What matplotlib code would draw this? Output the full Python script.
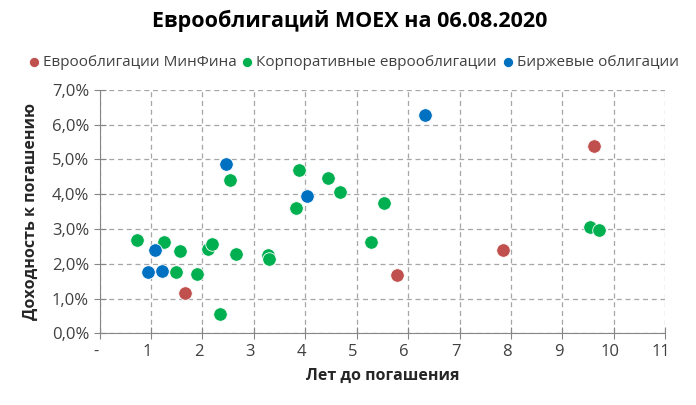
import matplotlib
matplotlib.use("Agg")
import matplotlib.pyplot as plt
import matplotlib.transforms as mtransforms
from matplotlib.ticker import FuncFormatter

plt.rcParams['font.family'] = ['Open Sans', 'DejaVu Sans']

# Еврооблигации МинФина
minfin_x = [1.66, 5.78, 7.85, 9.62]
minfin_y = [1.17, 1.68, 2.40, 5.38]
# Корпоративные еврооблигации
corp_x = [0.72, 1.25, 1.57, 1.48, 1.90, 2.11, 2.18, 2.35, 2.53, 2.66,
          3.28, 3.30, 3.81, 3.87, 4.45, 4.67, 5.27, 5.53, 9.53, 9.71]
corp_y = [2.69, 2.63, 2.37, 1.77, 1.72, 2.43, 2.58, 0.56, 4.40, 2.27,
          2.25, 2.14, 3.59, 4.71, 4.48, 4.05, 2.63, 3.75, 3.07, 2.98]
# Биржевые облигации
exch_x = [2.46, 1.07, 0.94, 1.21, 4.03, 6.32]
exch_y = [4.88, 2.41, 1.75, 1.80, 3.96, 6.27]

series = [
    ("Еврооблигации МинФина", minfin_x, minfin_y, "#C0504D"),
    ("Корпоративные еврооблигации", corp_x, corp_y, "#00B050"),
    ("Биржевые облигации", exch_x, exch_y, "#0070C0"),
]

fig = plt.figure(figsize=(6.96, 4.05), dpi=100)
ax = fig.add_axes([0.143, 0.177, 0.813, 0.601])

for name, xs, ys, col in series:
    ax.scatter(xs, ys, s=95, color=col, edgecolors="white", linewidths=0.6,
               label=name, zorder=3)

ax.set_xlim(0, 11)
ax.set_ylim(0, 7)
ax.set_xticks(range(0, 12))
ax.set_yticks(range(0, 8))
ax.xaxis.set_major_formatter(FuncFormatter(lambda v, p: "-" if v == 0 else f"{int(v)}"))
ax.yaxis.set_major_formatter(FuncFormatter(lambda v, p: f"{v:.1f}%".replace(".", ",")))
ax.grid(True, color="#A6A6A6", linestyle=(0, (4, 3)), linewidth=0.9)
ax.set_axisbelow(True)
for s in ["top", "right"]:
    ax.spines[s].set_visible(False)
for s in ["left", "bottom"]:
    ax.spines[s].set_color("#868686")
ax.tick_params(colors="#868686", labelcolor="#404040", labelsize=12,
               length=9, direction="inout", pad=3)

# excel puts the category labels a little left of the tick
shift = mtransforms.ScaledTranslation(-4 / 100, 0, fig.dpi_scale_trans)
for lbl in ax.get_xticklabels():
    lbl.set_transform(lbl.get_transform() + shift)

ax.set_xlabel("Лет до погашения", fontsize=11.5, fontweight="bold", color="#262626",
              labelpad=6)
ax.set_ylabel("Доходность к погашению", fontsize=11.5, fontweight="bold", color="#262626",
              labelpad=9)

fig.suptitle("Еврооблигаций MOEX на 06.08.2020", fontsize=15.5, fontweight="bold",
             x=0.502, y=0.975, color="#000000")
fig.legend(loc="center", bbox_to_anchor=(0.508, 0.845), ncol=3, frameon=False,
           fontsize=11, handlelength=0.7, handletextpad=0.25, columnspacing=0.35,
           markerscale=0.75, labelcolor="#404040", borderpad=0)

fig.savefig("out.png", dpi=100)
